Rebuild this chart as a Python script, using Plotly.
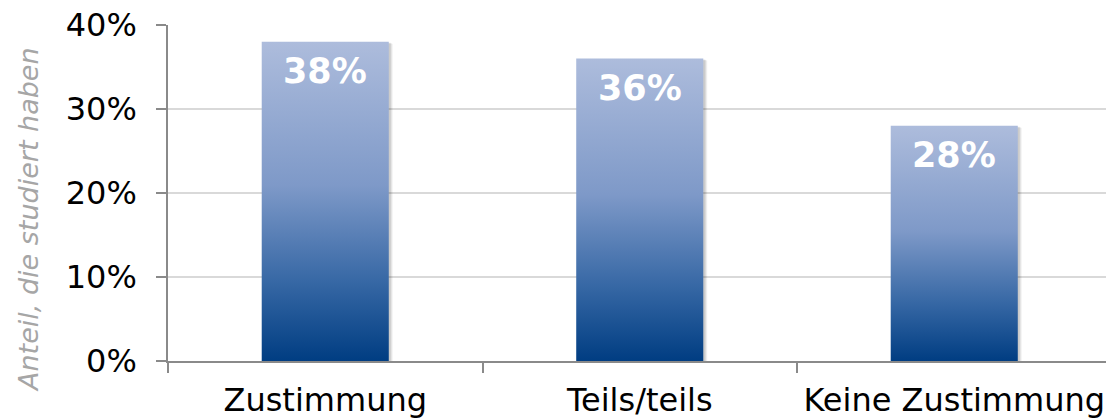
import plotly.graph_objects as go

# Survey answers and the share of respondents with a university degree
categories = ["Zustimmung", "Teils/teils", "Keine Zustimmung"]
shares = [38, 36, 28]
y_tick_values = [0, 10, 20, 30, 40]
y_tick_labels = ["0%", "10%", "20%", "30%", "40%"]
y_axis_title = "Anteil, die studiert haben"

FONT = "DejaVu Sans"
AXIS_GREY = "#8a8a8a"
GRID_GREY = "#d9d9d9"
BAR_WIDTH = 0.404
X_RANGE = [-0.5, 2.4825]
Y_RANGE = [0, 40]

# vertical blue gradient, dark at the base, pale at the top
gradient = [
    [0.0, "#003d82"],
    [0.25, "#3768a5"],
    [0.55, "#7e99c8"],
    [1.0, "#adbcdc"],
]

fig = go.Figure()

# categorical carrier trace: defines the category axis, drawn transparent
fig.add_trace(go.Bar(
    x=categories, y=shares, width=BAR_WIDTH,
    marker=dict(color="rgba(0,0,0,0)", line=dict(width=0)),
    hoverinfo="skip", showlegend=False,
))

# pixel-to-data helpers for the soft drop shadow
plot_w_px = 1106 - 168
plot_h_px = 419 - 25 - 58
dx_px = (X_RANGE[1] - X_RANGE[0]) / plot_w_px
dy_px = (Y_RANGE[1] - Y_RANGE[0]) / plot_h_px

for i, (cat, val) in enumerate(zip(categories, shares)):
    x0 = i - BAR_WIDTH / 2
    x1 = i + BAR_WIDTH / 2
    # shadow layers
    for off, alpha in [(4, 0.05), (3, 0.07), (2, 0.09)]:
        sx0, sx1 = x0 + off * dx_px * 0.5, x1 + off * dx_px
        sy0, sy1 = -off * dy_px, val - off * dy_px * 0.5
        fig.add_trace(go.Scatter(
            x=[sx0, sx1, sx1, sx0, sx0], y=[sy0, sy0, sy1, sy1, sy0],
            xaxis="x2", mode="lines", line=dict(width=0),
            fill="toself", fillcolor=f"rgba(0,0,0,{alpha})",
            hoverinfo="skip", showlegend=False, cliponaxis=False,
        ))
    # gradient bar
    fig.add_trace(go.Scatter(
        x=[x0, x1, x1, x0, x0], y=[0, 0, val, val, 0],
        xaxis="x2", mode="lines", line=dict(width=0),
        fill="toself",
        fillgradient=dict(type="vertical", colorscale=gradient, start=0, stop=val),
        name=cat, hovertemplate=f"{cat}: {val}%<extra></extra>",
        showlegend=False,
    ))
    # value label inside the top of the bar
    fig.add_annotation(
        x=i, y=val, xref="x", yref="y",
        text=f"<b>{val}%</b>", showarrow=False,
        yanchor="top", yshift=-7,
        font=dict(family=FONT, size=35, color="white"),
    )

# rotated axis title
fig.add_annotation(
    x=(29 - 168) / plot_w_px, y=(361 - 220) / plot_h_px,
    xref="paper", yref="paper", text=y_axis_title, textangle=-90,
    showarrow=False, xanchor="center", yanchor="middle",
    font=dict(family=FONT, size=27, color="#a6a6a6", style="italic"),
)

fig.update_layout(
    width=1106, height=419,
    margin=dict(l=168, r=0, t=25, b=58),
    paper_bgcolor="white", plot_bgcolor="white",
    font=dict(family=FONT, color="black"),
    bargap=0,
    xaxis=dict(
        type="category", categoryarray=categories, range=X_RANGE,
        tickson="boundaries", ticks="outside", ticklen=10, tickwidth=1.5,
        tickcolor=AXIS_GREY, showline=True, linecolor=AXIS_GREY, linewidth=1.5,
        showgrid=False, tickfont=dict(family=FONT, size=32, color="black"),
        ticklabelstandoff=10, fixedrange=True, automargin=False,
    ),
    xaxis2=dict(overlaying="x", range=X_RANGE, visible=False, fixedrange=True),
    yaxis=dict(
        range=Y_RANGE, tickvals=y_tick_values, ticktext=y_tick_labels,
        ticks="outside", ticklen=10, tickwidth=1.5, tickcolor=AXIS_GREY,
        showline=True, linecolor=AXIS_GREY, linewidth=1.5,
        showgrid=True, gridcolor=GRID_GREY, gridwidth=1.5, zeroline=False,
        tickfont=dict(family=FONT, size=32, color="black"),
        ticklabelstandoff=13, fixedrange=True, automargin=False,
    ),
)

fig.write_html("out.html")
